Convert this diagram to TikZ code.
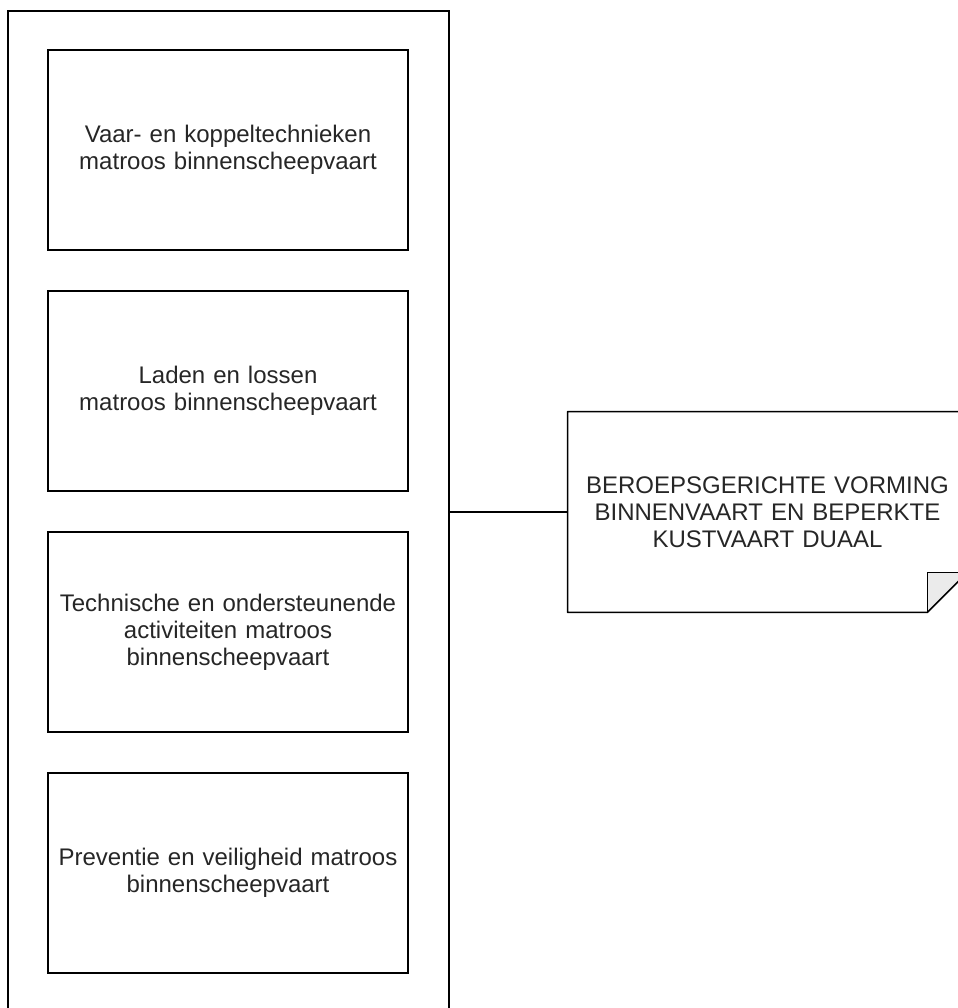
\documentclass[tikz,border=0pt]{standalone}
\usepackage{fontspec}
\setmainfont{Liberation Sans}
\usetikzlibrary{positioning}
\begin{document}
\begin{tikzpicture}[x=0.5pt,y=0.5pt,
		every node/.style={font=\fontsize{12}{13.4}\selectfont, text=black!85},
		frame/.style={draw, line width=0.8pt, minimum width=220.5pt, minimum height=501pt},
		module/.style={draw, line width=0.8pt, align=center, text width=170pt, minimum width=180pt, minimum height=100pt},
		notebox/.style={align=center, text width=190pt, minimum width=199.5pt, minimum height=100pt, inner sep=0pt}]
	\useasboundingbox (0,0) rectangle (958,1008);
	\clip (0,0) rectangle (958,1008);

	% Frame and modules
	\node[frame] (frame) at (228.5,496) {};
	\node[module] (m1) at (228,858) {Vaar- en koppeltechnieken\\matroos binnenscheepvaart};
	\node[module] (m2) at (228,617) {Laden en lossen\\matroos binnenscheepvaart};
	\node[module] (m3) at (228,376) {Technische en ondersteunende\\activiteiten matroos\\binnenscheepvaart};
	\node[module] (m4) at (228,135) {Preventie en veiligheid matroos\\binnenscheepvaart};

	% Note
	\node[notebox] (note) at (767.5,496) {BEROEPSGERICHTE VORMING\\BINNENVAART EN BEPERKTE\\KUSTVAART DUAAL};
	\coordinate (fold) at ([xshift=-20pt,yshift=20pt]note.south east);
	\fill[black!8] (fold) -- (fold -| note.east) -- (fold |- note.south) -- cycle;
	\draw[line width=0.8pt, line join=round] (note.north west) -- (note.north east) -- (fold -| note.east)
		-- (fold |- note.south) -- (note.south west) -- cycle;
	\draw[line width=0.8pt, line join=round] (fold -| note.east) -- (fold) -- (fold |- note.south);

	% Connector
	\draw[line width=0.8pt] (frame.east) -- (note.west);
\end{tikzpicture}
\end{document}
